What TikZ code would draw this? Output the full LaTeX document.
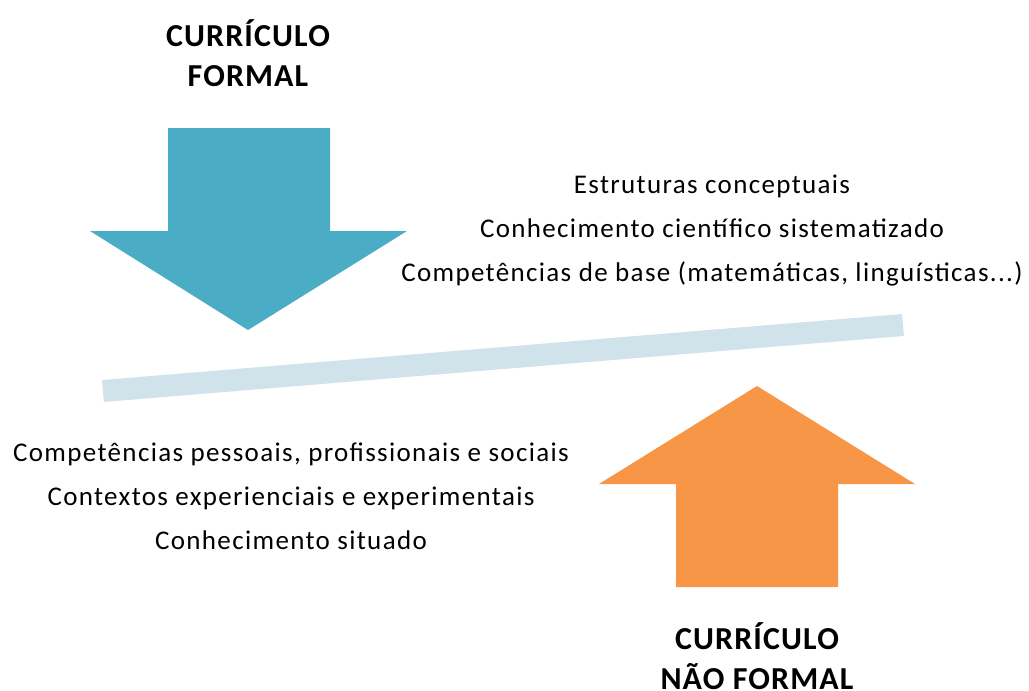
\documentclass[tikz,border=0pt]{standalone}
\usepackage{fontspec}
\setmainfont{Carlito}
\definecolor{formalblue}{RGB}{75,172,198}
\definecolor{naoformalorange}{RGB}{247,150,70}
\definecolor{barblue}{RGB}{208,226,234}
\tikzset{
  titulo/.style={font=\fontsize{32}{40}\selectfont\bfseries\addfontfeature{LetterSpace=3.5}, align=center, inner sep=0pt},
  lista/.style={font=\fontsize{27}{44}\selectfont\addfontfeature{LetterSpace=5}, align=center, inner sep=0pt}
}
\begin{document}
\begin{tikzpicture}[x=1pt,y=-1pt]
      \useasboundingbox (0,0) rectangle (1029,691);

      % seta do curriculo formal
      \fill[formalblue] (168,128)--(330,128)--(330,231)--(407,231)
        --(248,330)--(90,231)--(168,231)--cycle;

      % seta do curriculo nao formal
      \fill[naoformalorange] (676,587)--(838,587)--(838,484)--(915,484)
        --(757,386)--(599,484)--(676,484)--cycle;

      % barra
      \draw[barblue,line width=22pt] (103,391)--(903,325);

      \node[titulo] (formal) at (248,53) {CURRÍCULO\\FORMAL};
      \node[titulo] (naoformal) at (757,656) {CURRÍCULO\\NÃO FORMAL};

      \node[lista] (listaformal) at (712,231)
        {Estruturas conceptuais\\Conhecimento científico sistematizado\\Competências de base (matemáticas, linguísticas...)};
      \node[lista] (listanaoformal) at (291,496)
        {Competências pessoais, profissionais e sociais\\Contextos experienciais e experimentais\\Conhecimento situado};

    \end{tikzpicture}
\end{document}
